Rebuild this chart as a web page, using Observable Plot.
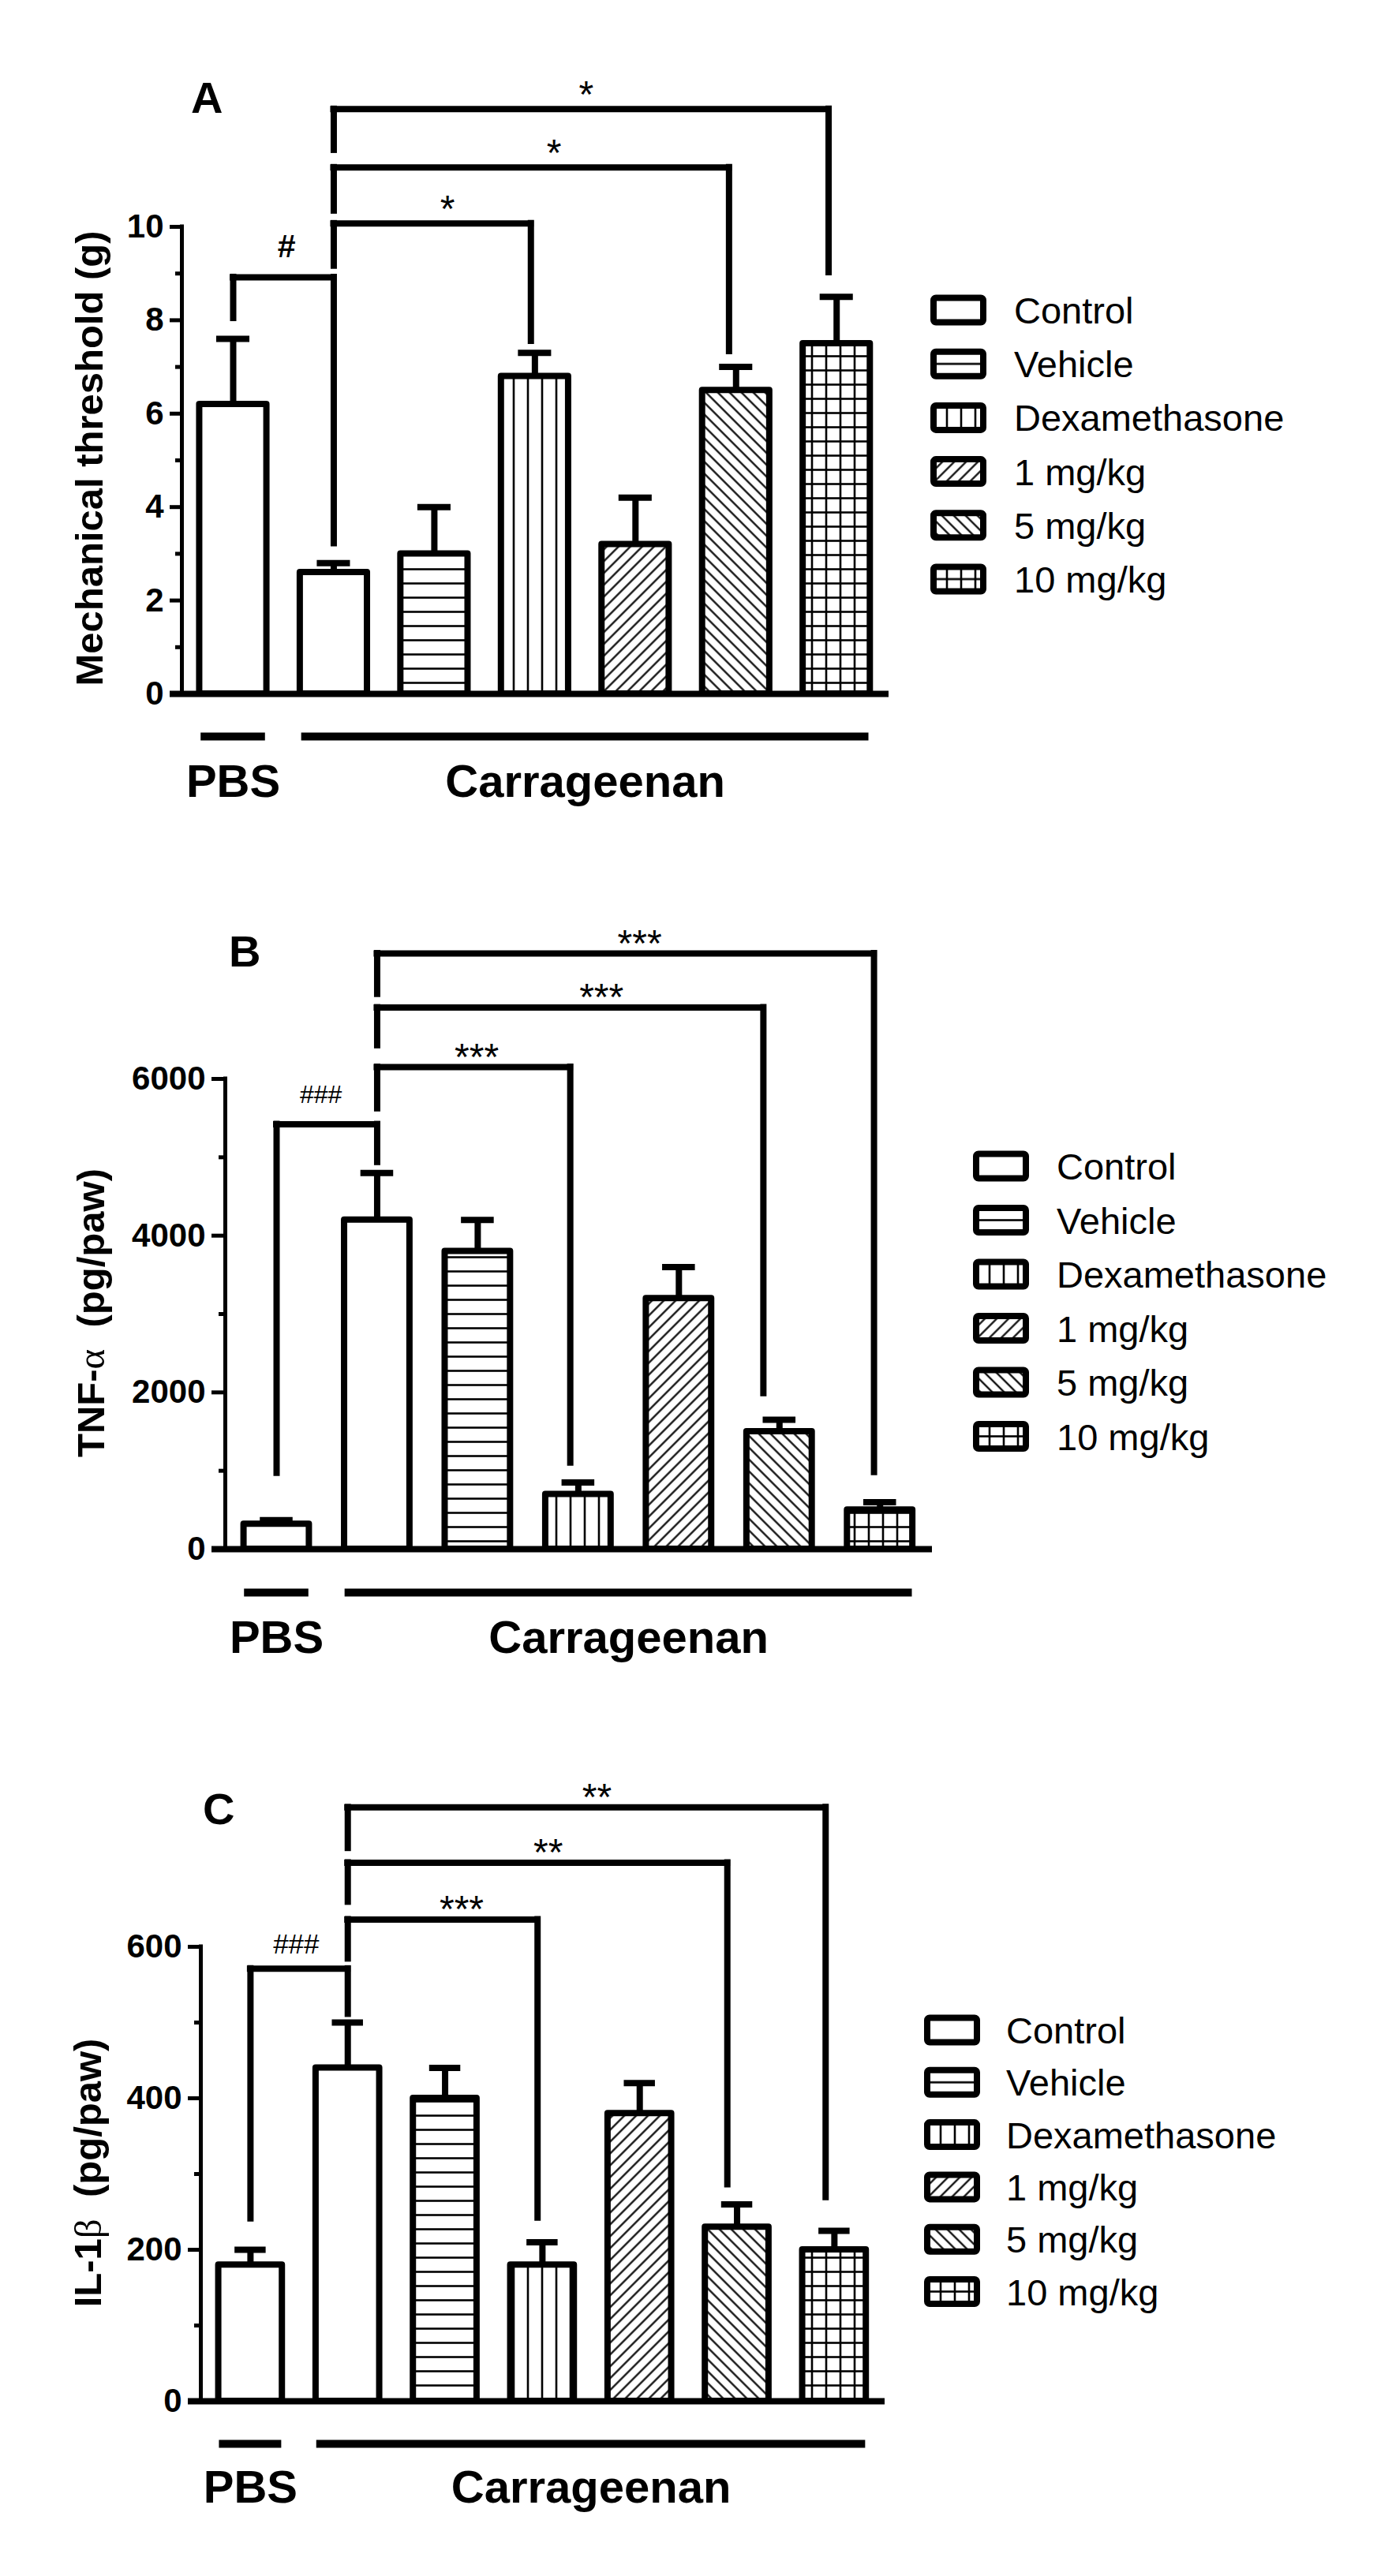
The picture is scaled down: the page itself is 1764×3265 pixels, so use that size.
<!DOCTYPE html>
<html>
<head>
<meta charset="utf-8">
<script src="https://cdn.jsdelivr.net/npm/d3@7"></script>
<script src="https://cdn.jsdelivr.net/npm/@observablehq/plot@0.6"></script>
<style>
html, body { margin: 0; padding: 0; background: #fff; }
#fig { position: relative; width: 1764px; height: 3265px; overflow: hidden; background: #fff; }
#fig svg { position: absolute; left: 0; }
</style>
</head>
<body>
<div id="fig"></div>
<script>
// ---------- data ----------
const treatments = ["Control (PBS)", "Control", "Vehicle", "Dexamethasone", "1 mg/kg", "5 mg/kg", "10 mg/kg"];
const legendLabels = ["Control", "Vehicle", "Dexamethasone", "1 mg/kg", "5 mg/kg", "10 mg/kg"];
const barLegendIndex = [0, 0, 1, 2, 3, 4, 5];
const groupLabels = ["PBS", "Carrageenan"];
const groupFirst = [0, 1];
const groupLast = [0, 6];

// Panel A: mechanical threshold (g)
const mechMean = [6.2, 2.6, 3.0, 6.8, 3.2, 6.5, 7.5];
const mechSEM  = [1.4, 0.2, 1.0, 0.5, 1.0, 0.5, 1.0];
const mechTicks = [0, 2, 4, 6, 8, 10];
const mechMinorTicks = [1, 3, 5, 7, 9];
const mechBrackets = [
  {from: 0, to: 1,    label: "#", labelAt: 0.53, top: 8.92,  fromEnd: 8.04,  toEnd: 3.22},
  {from: 1, to: 2.96, label: "*", labelAt: 2.13, top: 10.07, fromEnd: 9.16,  toEnd: 7.55},
  {from: 1, to: 4.93, label: "*", labelAt: 3.19, top: 11.27, fromEnd: 10.34, toEnd: 7.33},
  {from: 1, to: 5.92, label: "*", labelAt: 3.51, top: 12.52, fromEnd: 11.64, toEnd: 9.02}
];

// Panel B: TNF-alpha (pg/paw)
const tnfMean = [320, 4200, 3800, 700, 3200, 1500, 500];
const tnfSEM  = [50, 600, 400, 150, 400, 150, 100];
const tnfTicks = [0, 2000, 4000, 6000];
const tnfMinorTicks = [1000, 3000, 5000];
const tnfBrackets = [
  {from: 0, to: 1,    label: "###", labelAt: 0.44, top: 5420, fromEnd: 970,  toEnd: 4935},
  {from: 1, to: 2.92, label: "***", labelAt: 1.99, top: 6150, fromEnd: 5620, toEnd: 1100},
  {from: 1, to: 4.84, label: "***", labelAt: 3.23, top: 6910, fromEnd: 6425, toEnd: 1985},
  {from: 1, to: 5.94, label: "***", labelAt: 3.61, top: 7600, fromEnd: 7080, toEnd: 980}
];

// Panel C: IL-1beta (pg/paw)
const il1Mean = [180, 440, 400, 180, 380, 230, 200];
const il1SEM  = [20, 60, 40, 30, 40, 30, 25];
const il1Ticks = [0, 200, 400, 600];
const il1MinorTicks = [100, 300, 500];
const il1Brackets = [
  {from: 0, to: 1,    label: "###", labelAt: 0.47, top: 571, fromEnd: 241, toEnd: 511},
  {from: 1, to: 2.95, label: "***", labelAt: 2.17, top: 636, fromEnd: 584, toEnd: 242},
  {from: 1, to: 4.90, label: "**",  labelAt: 3.06, top: 711, fromEnd: 659, toEnd: 286},
  {from: 1, to: 5.91, label: "**",  labelAt: 3.56, top: 784, fromEnd: 730, toEnd: 269}
];

// ---------- layout / style ----------
const FONT = '"Liberation Sans", Arial, Helvetica, sans-serif';
const W = 1764, H = 1088;
const X_DOMAIN = [-0.51, 6.52];
const patternIds = [null, "pHL", "pVL", "pD1", "pD2", "pGR"];

const panels = [
  {svgTop: 0, mean: mechMean, sem: mechSEM, max: 10, ticks: mechTicks, minor: mechMinorTicks, brackets: mechBrackets,
   left: 230, right: 1126, yTop: 287, yBottom: 879, hw: 0.334, cw: 0.165, tick: 15,
   groupDy: 54, groupTextDy: 112, starDy: -18, hashDy: -39, hashSize: 41, hashWeight: "bold",
   letter: "A", letterX: 242, letterY: 143,
   title: [["Mechanical threshold (g)", "bold", FONT]], titleX: 130, titleY: 581,
   legendX: 1179, legendTextX: 1285, legendY: 393, legendStep: 68.2},
  {svgTop: 1088, mean: tnfMean, sem: tnfSEM, max: 6000, ticks: tnfTicks, minor: tnfMinorTicks, brackets: tnfBrackets,
   left: 285, right: 1181, yTop: 1367, yBottom: 1963, hw: 0.325, cw: 0.163, tick: 17,
   groupDy: 55, groupTextDy: 113, starDy: -12, hashDy: -37, hashSize: 32, hashWeight: "normal",
   letter: "B", letterX: 290, letterY: 1225,
   title: [["TNF-", "bold", FONT], ["\u03B1", "normal", '"Liberation Serif", serif'], ["  (pg/paw)", "bold", FONT]], titleX: 132, titleY: 1664,
   legendX: 1233, legendTextX: 1339, legendY: 1478, legendStep: 68.5},
  {svgTop: 2176, mean: il1Mean, sem: il1SEM, max: 600, ticks: il1Ticks, minor: il1MinorTicks, brackets: il1Brackets,
   left: 254, right: 1121, yTop: 2467, yBottom: 3043, hw: 0.327, cw: 0.16, tick: 16,
   groupDy: 54, groupTextDy: 110, starDy: -12, hashDy: -31, hashSize: 35, hashWeight: "normal",
   letter: "C", letterX: 257, letterY: 2312,
   title: [["IL-1", "bold", FONT], ["\u03B2", "normal", '"Liberation Serif", serif'], ["  (pg/paw)", "bold", FONT]], titleX: 128, titleY: 2754,
   legendX: 1171, legendTextX: 1275, legendY: 2573, legendStep: 66.3}
];

const fig = document.getElementById("fig");

// overlay svg (pattern defs, panel letters, axis titles, legends)
const ov = d3.create("svg")
  .attr("width", W).attr("height", 3265)
  .style("top", "0px").style("pointer-events", "none")
  .style("font-family", FONT);
const defs = ov.append("defs");

function addPattern(id, w, h, transform, draw) {
  const p = defs.append("pattern").attr("id", id)
    .attr("patternUnits", "userSpaceOnUse").attr("width", w).attr("height", h);
  if (transform) p.attr("patternTransform", transform);
  p.append("rect").attr("width", w).attr("height", h).attr("fill", "white");
  draw(p);
}
const PL = 2.6, PD = 2.2;
addPattern("pHL", 18, 18, null, p => p.append("line").attr("x1", 0).attr("x2", 18).attr("y1", 1.5).attr("y2", 1.5).attr("stroke", "black").attr("stroke-width", PL));
addPattern("pVL", 18, 18, null, p => p.append("line").attr("x1", 3).attr("x2", 3).attr("y1", 0).attr("y2", 18).attr("stroke", "black").attr("stroke-width", PL));
addPattern("pD1", 10.6, 10.6, "rotate(45)", p => p.append("line").attr("x1", 5.3).attr("x2", 5.3).attr("y1", 0).attr("y2", 10.6).attr("stroke", "black").attr("stroke-width", PD));
addPattern("pD2", 10.6, 10.6, "rotate(-45)", p => p.append("line").attr("x1", 5.3).attr("x2", 5.3).attr("y1", 0).attr("y2", 10.6).attr("stroke", "black").attr("stroke-width", PD));
addPattern("pGR", 18, 18, null, p => {
  p.append("line").attr("x1", 3).attr("x2", 3).attr("y1", 0).attr("y2", 18).attr("stroke", "black").attr("stroke-width", PL);
  p.append("line").attr("x1", 0).attr("x2", 18).attr("y1", 1.5).attr("y2", 1.5).attr("stroke", "black").attr("stroke-width", PL);
});

function drawPanel(cfg) {
  const rows = treatments.map((t, i) => ({i, t, mean: cfg.mean[i], err: cfg.mean[i] + cfg.sem[i], pat: barLegendIndex[i]}));
  const groups = groupLabels.map((label, k) => ({label, first: groupFirst[k], last: groupLast[k]}));
  const marks = [];

  // bars, one mark per fill pattern
  patternIds.forEach((pid, p) => {
    const sub = rows.filter(r => r.pat === p);
    if (!sub.length) return;
    marks.push(Plot.rect(sub, {
      x1: r => r.i - cfg.hw, x2: r => r.i + cfg.hw, y1: () => 0, y2: "mean",
      fill: pid ? `url(#${pid})` : "white", stroke: "black", strokeWidth: 8, strokeLinejoin: "round"
    }));
  });
  // error bars (upper only)
  marks.push(Plot.ruleX(rows, {x: "i", y1: "mean", y2: "err", stroke: "black", strokeWidth: 8}));
  marks.push(Plot.ruleY(rows, {y: "err", x1: r => r.i - cfg.cw, x2: r => r.i + cfg.cw, stroke: "black", strokeWidth: 8}));

  // axes
  marks.push(Plot.ruleX([X_DOMAIN[0]], {y1: () => 0, y2: () => cfg.max, stroke: "black", strokeWidth: 5, strokeLinecap: "square"}));
  marks.push(Plot.axisY({ticks: cfg.minor, tickSize: 8, tickFormat: () => "", strokeWidth: 5, label: null}));
  marks.push(Plot.axisY({ticks: cfg.ticks, tickSize: cfg.tick, tickPadding: 8, tickFormat: d => String(d),
    strokeWidth: 5, fontSize: 42, fontWeight: "bold", fontFamily: FONT, label: null}));
  marks.push(Plot.ruleY([0], {stroke: "black", strokeWidth: 8, insetLeft: -cfg.tick}));

  // significance brackets
  const sq = {stroke: "black", strokeWidth: 8, strokeLinecap: "square"};
  marks.push(Plot.ruleY(cfg.brackets, {y: "top", x1: "from", x2: "to", ...sq}));
  marks.push(Plot.ruleX(cfg.brackets, {x: "from", y1: "top", y2: "fromEnd", ...sq}));
  marks.push(Plot.ruleX(cfg.brackets, {x: "to", y1: "top", y2: "toEnd", ...sq}));
  marks.push(Plot.text(cfg.brackets.filter(b => b.label.includes("#")), {
    x: "labelAt", y: "top", text: "label", dy: cfg.hashDy,
    fontSize: cfg.hashSize, fontWeight: cfg.hashWeight, fill: "black"}));
  marks.push(Plot.text(cfg.brackets.filter(b => b.label.includes("*")), {
    x: "labelAt", y: "top", text: "label", dy: cfg.starDy,
    fontSize: 48, fontWeight: "normal", fill: "black"}));

  // treatment group lines and labels
  marks.push(Plot.ruleY(groups, {y: () => 0, x1: g => g.first - 0.32, x2: g => g.last + 0.32, dy: cfg.groupDy, stroke: "black", strokeWidth: 10}));
  marks.push(Plot.text(groups, {x: g => (g.first + g.last) / 2, y: () => 0, text: "label", dy: cfg.groupTextDy,
    fontSize: 58, fontWeight: "bold", fill: "black"}));

  const svg = Plot.plot({
    width: W, height: H,
    marginLeft: cfg.left, marginRight: W - cfg.right,
    marginTop: cfg.yTop - cfg.svgTop, marginBottom: H - (cfg.yBottom - cfg.svgTop),
    x: {type: "linear", domain: X_DOMAIN, axis: null},
    y: {type: "linear", domain: [0, cfg.max], axis: null, label: null},
    style: {fontFamily: FONT, color: "black", background: "transparent", overflow: "visible"},
    marks
  });
  svg.style.top = cfg.svgTop + "px";
  fig.appendChild(svg);

  // panel letter
  ov.append("text").attr("x", cfg.letterX).attr("y", cfg.letterY)
    .attr("font-size", 56).attr("font-weight", "bold").text(cfg.letter);

  // y-axis title
  const t = ov.append("text").attr("transform", `translate(${cfg.titleX},${cfg.titleY}) rotate(-90)`)
    .attr("text-anchor", "middle").attr("font-size", 49).attr("xml:space", "preserve").style("white-space", "pre");
  cfg.title.forEach(([s, w, f]) => t.append("tspan").attr("font-weight", w).attr("font-family", f).text(s));

  // legend
  legendLabels.forEach((lab, k) => {
    const cy = cfg.legendY + k * cfg.legendStep;
    const g = ov.append("g").attr("transform", `translate(${cfg.legendX},${cy - 19.5})`);
    g.append("rect").attr("x", 4).attr("y", 4).attr("width", 63).attr("height", 31).attr("rx", 3)
      .attr("fill", patternIds[k] ? `url(#${patternIds[k]})` : "white")
      .attr("stroke", "black").attr("stroke-width", 8);
    ov.append("text").attr("x", cfg.legendTextX).attr("y", cy + 17)
      .attr("font-size", 47).attr("fill", "black").text(lab);
  });
}

panels.forEach(drawPanel);
fig.appendChild(ov.node());
</script>
</body>
</html>
